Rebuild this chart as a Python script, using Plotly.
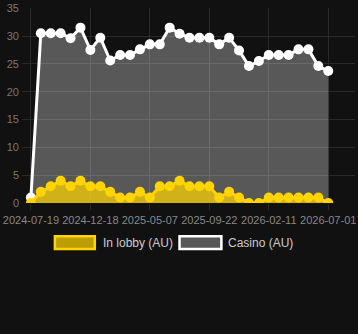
import plotly.graph_objects as go

dates = [
    "2024-07-19", "2024-08-13", "2024-09-07", "2024-10-02", "2024-10-27", "2024-11-22",
    "2024-12-18", "2025-01-10", "2025-02-02", "2025-02-25", "2025-03-20", "2025-04-13",
    "2025-05-07", "2025-05-30", "2025-06-22", "2025-07-15", "2025-08-07", "2025-08-30",
    "2025-09-22", "2025-10-16", "2025-11-08", "2025-12-01", "2025-12-24", "2026-01-18",
    "2026-02-11", "2026-03-06", "2026-03-29", "2026-04-21", "2026-05-14", "2026-06-07",
    "2026-07-01",
]
casino = [1, 30.5, 30.5, 30.5, 29.6, 31.5, 27.5, 29.7, 25.6, 26.6, 26.6, 27.6, 28.5, 28.5,
          31.5, 30.4, 29.7, 29.7, 29.7, 28.5, 29.7, 27.4, 24.6, 25.5, 26.6, 26.6, 26.6,
          27.6, 27.6, 24.6, 23.7]
lobby = [0, 2, 3, 4, 3, 4, 3, 3, 2, 1, 1, 2, 1, 3, 3, 4, 3, 3, 3, 1, 2, 1, 0, 0, 1, 1, 1,
         1, 1, 1, 0]
tick_labels = ["2024-07-19", "2024-12-18", "2025-05-07", "2025-09-22", "2026-02-11", "2026-07-01"]
y_ticks = [0, 5, 10, 15, 20, 25, 30, 35]
series_names = ["In lobby (AU)", "Casino (AU)"]

BG = "#111111"
GRID = "#2a2a2a"
GOLD = "#ffd400"

fig = go.Figure()
fig.add_trace(go.Scatter(
    x=dates, y=casino, name=series_names[1], mode="lines+markers",
    line=dict(color="#ffffff", width=3),
    marker=dict(color="#ffffff", size=10),
    fill="tozeroy", fillcolor="rgba(255,255,255,0.3)", showlegend=False,
))
fig.add_trace(go.Scatter(
    x=dates, y=lobby, name=series_names[0], mode="lines+markers",
    line=dict(color=GOLD, width=3),
    marker=dict(color=GOLD, size=10),
    fill="tozeroy", fillcolor="rgba(255,212,0,0.72)", showlegend=False,
))

L, R, T, B = 22, 2, 4, 131
W, H = 358, 334
pw, ph = W - L - R, H - T - B


def px(x):
    return (x - L) / pw


def py(y):
    return (T + ph - y) / ph


shapes = [
    dict(type="rect", xref="paper", yref="paper", x0=px(55), x1=px(95), y0=py(250), y1=py(237),
         line=dict(color=GOLD, width=2.5), fillcolor="rgba(255,212,0,0.72)", layer="above"),
    dict(type="rect", xref="paper", yref="paper", x0=px(180), x1=px(222), y0=py(250), y1=py(237),
         line=dict(color="#ffffff", width=2.5), fillcolor="rgba(255,255,255,0.3)", layer="above"),
]
annotations = [
    dict(xref="paper", yref="paper", x=px(101), y=py(244), text=series_names[0], showarrow=False,
         xanchor="left", yanchor="middle", font=dict(size=12, color="#cccccc")),
    dict(xref="paper", yref="paper", x=px(227), y=py(244), text=series_names[1], showarrow=False,
         xanchor="left", yanchor="middle", font=dict(size=12, color="#cccccc")),
]

fig.update_layout(
    width=W, height=H,
    margin=dict(l=L, r=R, t=T, b=B),
    paper_bgcolor=BG, plot_bgcolor=BG,
    font=dict(family="Liberation Sans, Arial, sans-serif", color="#888888", size=11),
    showlegend=False,
    shapes=shapes, annotations=annotations,
    xaxis=dict(
        type="category", categoryorder="array", categoryarray=dates,
        range=[-0.9, 32.7],
        tickvals=tick_labels, ticktext=tick_labels,
        showgrid=True, gridcolor=GRID, gridwidth=1,
        ticks="outside", ticklen=6, tickcolor=GRID,
        tickfont=dict(size=11, color="#888888"),
        ticklabelstandoff=1,
        zeroline=False, showline=False,
    ),
    yaxis=dict(
        range=[0, 35.03], tickmode="array", tickvals=y_ticks,
        showgrid=True, gridcolor=GRID, gridwidth=1,
        tickfont=dict(size=11, color="#777777"),
        ticklabeloverflow="allow",
        zeroline=False, showline=False, ticks="", ticklabelstandoff=2,
    ),
)

fig.write_html("out.html")
